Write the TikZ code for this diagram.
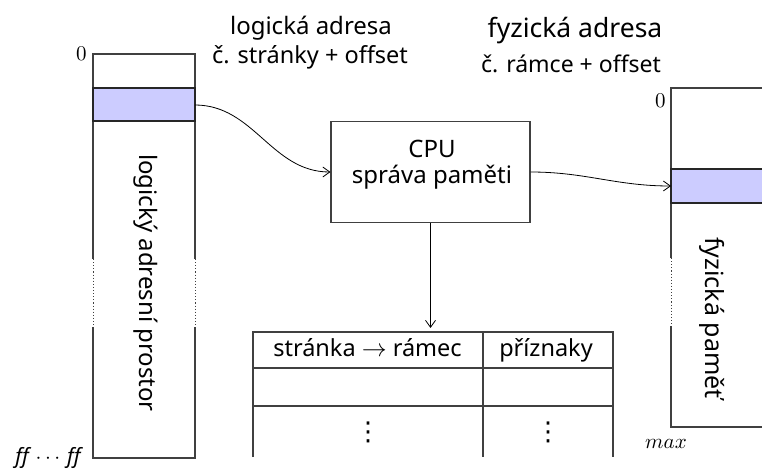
\documentclass[tikz,border=0pt]{standalone}
\usepackage{fontspec}
\setmainfont{Noto Sans}
\newfontfamily\symfont{DejaVu Sans}
\usetikzlibrary{arrows.meta}
\definecolor{pagefill}{RGB}{204,204,255}
\newcommand{\fsz}[1]{\fontsize{#1}{1.2\dimexpr#1pt\relax}\selectfont}
\tikzset{
  frame/.style={draw=black!75, line width=1.1pt},
  label/.style={font=\fsz{24}, inner sep=0pt, anchor=base},
  conn/.style={draw=black, line width=0.8pt, -{Straight Barb[length=7pt,width=10pt]}},
  mathlbl/.style={font=\normalsize, inner sep=0pt, scale=2.1},
  vdotlbl/.style={font=\symfont\fsz{26}, inner sep=0pt, anchor=center}
}
\begin{document}
\begin{tikzpicture}[x=1pt,y=-1pt]
\useasboundingbox (0,0) rectangle (762,470);
% logical address space
\draw[frame] (93,259) -- (93,54) -- (195,54) -- (195,259);
\draw[frame] (93,327) -- (93,458) -- (195,458) -- (195,327);
\draw[frame, dotted, line width=0.8pt] (93,259) -- (93,327) (195,259) -- (195,327);
\filldraw[fill=pagefill, draw=black!85, line width=1.1pt] (93,88) rectangle (195,121);
\coordinate (lpage) at (195,105);
\node[label, anchor=center, rotate=-90] (lspace) at (146,283) {logický adresní prostor};
\node[mathlbl, anchor=base east] (lzero) at (87,61) {$0$};
\node[mathlbl, anchor=base east] (lmax) at (81,463) {$\mathit{ff}\,\cdots\,\mathit{ff}$};
% physical memory
\draw[frame] (671,258) -- (671,88) -- (780,88);
\draw[frame] (671,326) -- (671,427) -- (780,427);
\draw[frame, dotted, line width=0.8pt] (671,258) -- (671,326);
\filldraw[fill=pagefill, draw=black!85, line width=1.1pt] (671,169) rectangle (780,203);
\coordinate (ppage) at (671,186);
\node[label, anchor=center, rotate=-90, font=\fsz{25}] (pmem) at (712,318) {fyzická paměť};
\node[mathlbl, anchor=base east] (pzero) at (666,108) {$0$};
\node[mathlbl, anchor=base] (pmax) at (666,448) {$max$};
% CPU
\node[frame, minimum width=199pt, minimum height=101pt] (cpu) at (430.5,172) {};
\node[label] (cputxt) at (432,158) {CPU};
\node[label] (mmu) at (432,184) {správa paměti};
% address labels
\node[label] (laddr) at (311,35) {logická adresa};
\node[label, font=\fsz{23.5}] (lfmt) at (310,64) {č. stránky + offset};
\node[label, font=\fsz{26.5}] (paddr) at (575,38) {fyzická adresa};
\node[label, font=\fsz{23}] (pfmt) at (571,73) {č. rámce + offset};
% page table
\draw[frame] (253,457) -- (253,332) -- (613,332) -- (613,457);
\draw[frame] (483,332) -- (483,457);
\draw[frame] (253,368) -- (613,368);
\draw[frame] (253,406) -- (613,406);
\node[label, font=\fsz{23.5}] (hpage) at (367.5,356) {stránka $\rightarrow$ rámec};
\node[label, font=\fsz{23.5}] (hflags) at (546,356) {příznaky};
\node[vdotlbl] (dots1) at (368,432) {⋮};
\node[vdotlbl] (dots2) at (548,432) {⋮};
\coordinate (ttop) at (431,328);
% connectors
\draw[conn] (lpage) to[out=0, in=180] (cpu.west);
\draw[conn] (cpu.east) to[out=0, in=180] (ppage);
\draw[conn] (cpu.south) -- (cpu.south |- ttop);
\end{tikzpicture}
\end{document}
